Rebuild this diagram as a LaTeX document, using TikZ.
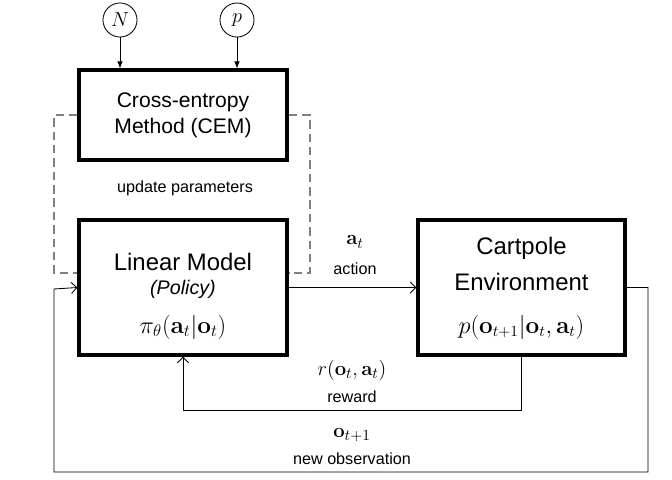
\documentclass[tikz,border=0pt]{standalone}
\usepackage{amsmath,amssymb}
\usepackage[no-math]{fontspec}
\setmainfont{Liberation Sans}
\usepackage{xcolor}
\usetikzlibrary{arrows.meta}

\begin{document}
\begin{tikzpicture}[x=0.025cm,y=-0.025cm,
  block/.style={draw,line width=2.2pt,minimum width=5.2cm,inner sep=0pt},
  var/.style={draw,circle,line width=0.6pt,minimum size=0.85cm,inner sep=0pt,font=\fontsize{15}{18}\selectfont},
  link/.style={line width=0.6pt},
  updlink/.style={line width=0.8pt,gray,dash pattern=on 6pt off 3.5pt},
  small/.style={font=\fontsize{11.5}{13}\selectfont},
  mlabel/.style={font=\fontsize{15}{17}\selectfont},
  open/.style={-{Straight Barb[length=4pt,width=8pt]}}]
\useasboundingbox (0,0) rectangle (672,480);
% inputs of the optimiser
\node[var] (nN) at (120,20) {$N$};
\node[var] (nP) at (237,20) {$p$};
% blocks
\node[block,minimum height=2.25cm,align=center,font=\fontsize{15}{18.5}\selectfont] (cem) at (183,115) {Cross-entropy\\Method (CEM)};
\node[block,minimum height=3.375cm] (lin) at (183,287.5) {};
\node[block,minimum width=5.175cm,minimum height=3.375cm] (env) at (521.5,287.5) {};
\node[font=\fontsize{17}{20}\selectfont] (linT) at (183,262) {Linear Model};
\node[font=\fontsize{14}{16}\selectfont\itshape] (linP) at (183,289) {(Policy)};
\node[font=\fontsize{17}{20}\selectfont] (linM) at (183,327) {$\pi_\theta(\mathbf{a}_t|\mathbf{o}_t)$};
\node[font=\fontsize{17}{25}\selectfont,align=center] (envT) at (521.5,264) {Cartpole\\Environment};
\node[font=\fontsize{16}{19}\selectfont] (envM) at (521.5,327) {$p(\mathbf{o}_{t+1}|\mathbf{o}_t,\mathbf{a}_t)$};
% arrows into the CEM
\draw[link,-{Latex[length=5pt,width=4pt]}] (nN) -- (nN |- cem.north);
\draw[link,-{Latex[length=5pt,width=4pt]}] (nP) -- (nP |- cem.north);
% parameter update
\draw[updlink] (cem.west) -- (54,115) -- (54,273) -- (lin.west |- 0,273);
\draw[updlink] (cem.east) -- (310,115) -- (310,273) -- (lin.east |- 0,273);
\node[small] (upd) at (185,188) {update parameters};
% action
\draw[link,open] (lin.east) -- (env.west);
\node[mlabel] (actM) at (355,242) {$\mathbf{a}_t$};
\node[small] (act) at (355,269) {action};
% reward
\draw[link,open] (env.south) -- (env.south |- 0,410) -| (lin.south);
\node[mlabel] (rewM) at (352,370) {$r(\mathbf{o}_t,\mathbf{a}_t)$};
\node[small] (rew) at (352,397) {reward};
% observation
\draw[link,open] (env.east) -- (648,287.5) -- (648,472) -- (54,472) -- (54,289) -- (lin.west);
\node[mlabel] (obsM) at (352,435) {$\mathbf{o}_{t+1}$};
\node[small] (obs) at (352,459) {new observation};
\end{tikzpicture}
\end{document}
